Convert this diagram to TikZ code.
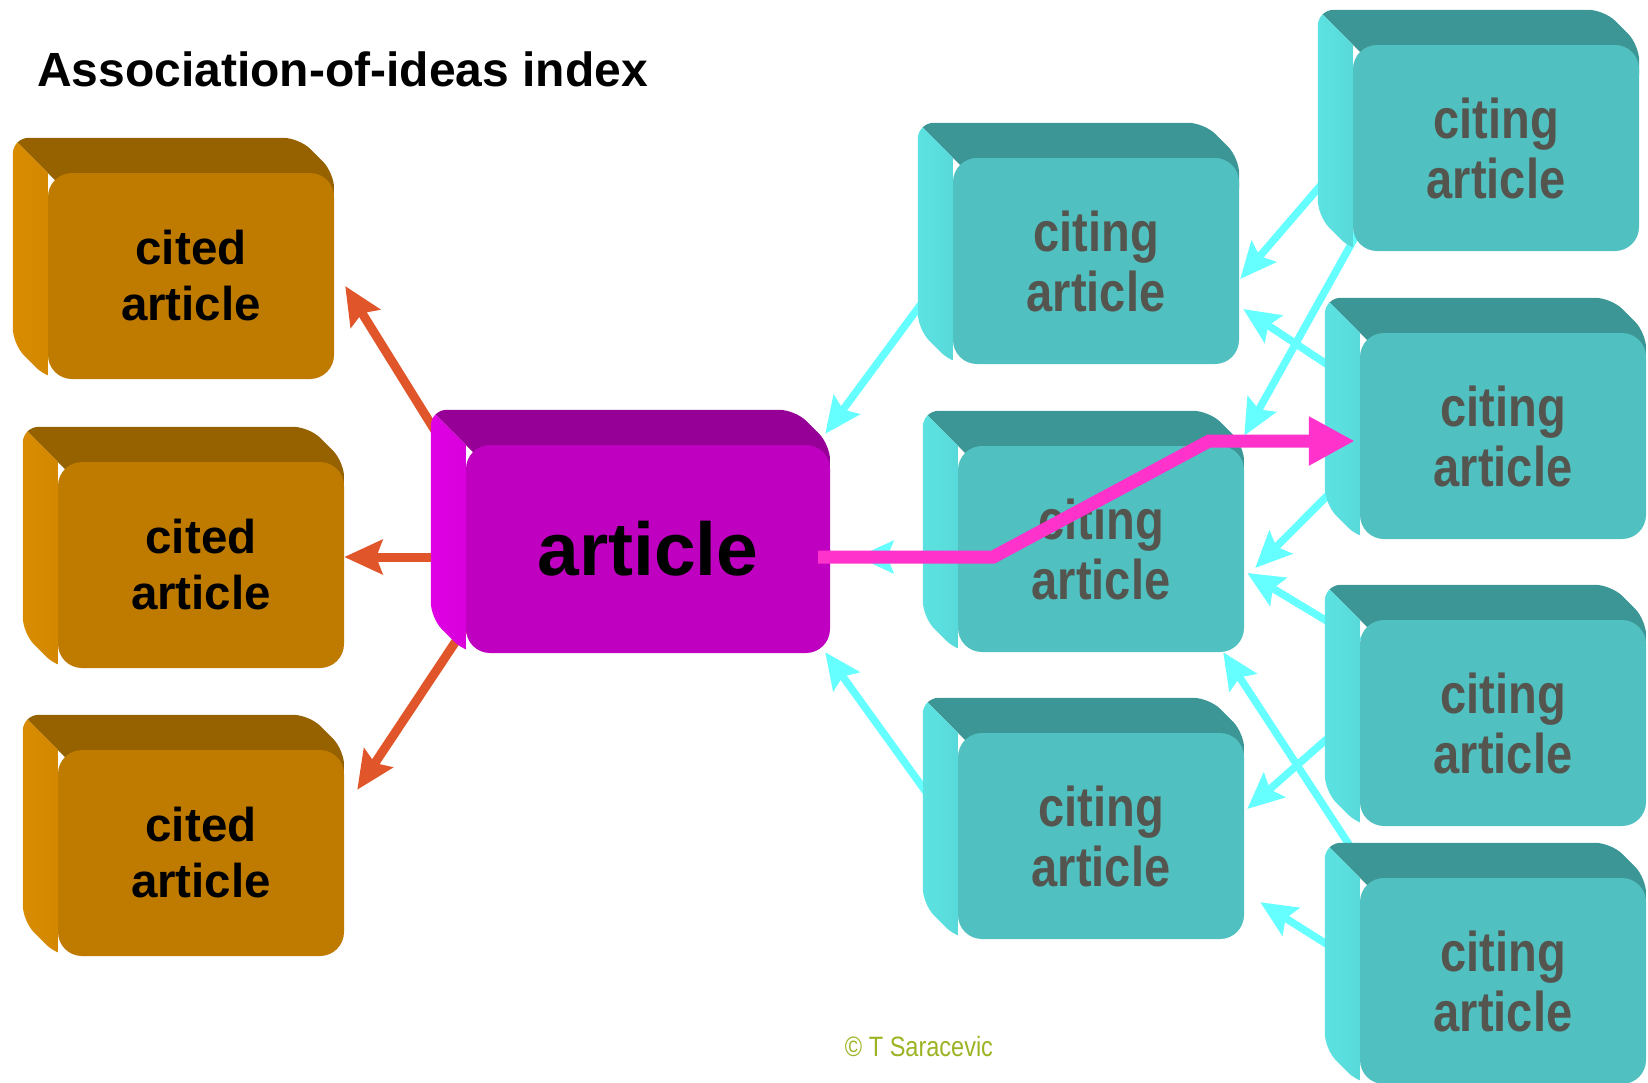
\documentclass[tikz,border=0pt]{standalone}
\usepackage{fontspec}
\setmainfont{Liberation Sans}
\newfontfamily\narrowfont[FakeStretch=0.84]{Liberation Sans}
\usetikzlibrary{arrows.meta}

\definecolor{citedfront}{HTML}{BF7A00}
\definecolor{citedtop}{HTML}{966200}
\definecolor{citedside}{HTML}{D98C00}
\definecolor{mainfront}{HTML}{C000C0}
\definecolor{maintop}{HTML}{960096}
\definecolor{mainside}{HTML}{E000E4}
\definecolor{citingfront}{HTML}{50C0C0}
\definecolor{citingtop}{HTML}{3D9696}
\definecolor{citingside}{HTML}{5CE2E2}
\definecolor{citingtext}{HTML}{55554F}
\definecolor{refred}{HTML}{E0562A}
\definecolor{citecyan}{HTML}{66FFFF}
\definecolor{trailpink}{HTML}{FF33CC}
\definecolor{creditgreen}{HTML}{9CB424}

\pgfdeclarelayer{links}
\pgfdeclarelayer{sides}
\pgfdeclarelayer{front}
\pgfsetlayers{links,sides,main,front}

% extruded back part of a block, drawn behind its front face
\newcommand{\boxsides}[2]{%
  \begin{pgfonlayer}{sides}
    \begin{scope}
    \clip[rounded corners=16pt] ([shift={(-35,-35)}]#1.north west) -- ([shift={(-35,-35)}]#1.north east)
      -- (#1.north east) -- (#1.south east) -- (#1.south west) -- ([shift={(-35,-35)}]#1.south west) -- cycle;
    \fill[#2top] ([shift={(-35,-35)}]#1.north west) -- ([shift={(-35,-35)}]#1.north east) -- (#1.north east)
      -- ([shift={(0,30)}]#1.north east) -- ([shift={(30,30)}]#1.north west) -- (#1.north west) -- cycle;
    \shade[left color=#2side, right color=#2side!75!#2front] ([shift={(-35,-35)}]#1.north west)
      -- (#1.north west) -- (#1.south west) -- ([shift={(-35,-35)}]#1.south west) -- cycle;
    \end{scope}
  \end{pgfonlayer}}

\tikzset{
  face/.style={rounded corners=24pt, inner sep=0pt, minimum width=286pt, minimum height=206pt, align=center},
  citedbox/.style={face, fill=citedfront, font=\bfseries\fontsize{47.5}{56}\selectfont},
  mainbox/.style={face, fill=mainfront, minimum width=364pt, minimum height=208pt, font=\bfseries\fontsize{75}{80}\selectfont},
  citingbox/.style={face, fill=citingfront, text=citingtext, font=\narrowfont\bfseries\fontsize{56}{60}\selectfont},
  refline/.style={draw=refred, line width=9pt, -{Stealth[length=38pt, width=34pt, inset=6pt]}},
  citeline/.style={draw=citecyan, line width=7.5pt, -{Stealth[length=36pt, width=32pt, inset=6pt]}},
  trail/.style={draw=trailpink, line width=13pt, -{Triangle[length=46pt, width=46pt]}}
}

\begin{document}
\begin{tikzpicture}[x=1pt, y=-1pt]
    \useasboundingbox (0,0) rectangle (1648,1082);
    \node[anchor=base west, inner sep=0pt, font=\bfseries\fontsize{48}{56}\selectfont] (title) at (37,86) {Association-of-ideas index};

    \node[citedbox] (cited1) at (191,276) {cited\\article};
    \node[citedbox] (cited2) at (201,565) {cited\\article};
    \node[citedbox] (cited3) at (201,853) {cited\\article};
    \node[mainbox] (article) at (648,549) {article};
    \node[citingbox] (citing1) at (1096,261) {citing\\article};
    \node[citingbox] (citing2) at (1101,549) {citing\\article};
    \node[citingbox] (citing3) at (1101,836) {citing\\article};
    \node[citingbox] (citing4) at (1496,148) {citing\\article};
    \node[citingbox] (citing5) at (1503,436) {citing\\article};
    \node[citingbox] (citing6) at (1503,723) {citing\\article};
    \node[citingbox] (citing7) at (1503,981) {citing\\article};

    \boxsides{cited1}{cited}
    \boxsides{cited2}{cited}
    \boxsides{cited3}{cited}
    \boxsides{article}{main}
    \boxsides{citing1}{citing}
    \boxsides{citing2}{citing}
    \boxsides{citing3}{citing}
    \boxsides{citing4}{citing}
    \boxsides{citing5}{citing}
    \boxsides{citing6}{citing}
    \boxsides{citing7}{citing}

    \begin{pgfonlayer}{links}
    \draw[refline] ([shift={(-22,0)}]article.north west) -- ([shift={(11,10)}]cited1.east);
    \draw[refline] ([shift={(0,8)}]article.west) -- ([shift={(0,-8)}]cited2.east);
    \draw[refline] ([shift={(14,-48)}]article.south west) -- ([shift={(13,40)}]cited3.north east);
    \draw[citeline] (citing1.west) -- ([shift={(-5,-11)}]article.north east);
    \draw[citeline] ([shift={(0,8)}]citing2.west) -- ([shift={(27,8)}]article.east);
    \draw[citeline] (citing3.west) -- ([shift={(-5,-1)}]article.south east);
    \draw[citeline] (citing4.west) -- ([shift={(1,18)}]citing1.east);
    \draw[citeline] ([shift={(5,-19)}]citing4.south west) -- ([shift={(0,-10)}]citing2.north east);
    \draw[citeline] ([shift={(0,-50)}]citing5.west) -- ([shift={(4,48)}]citing1.east);
    \draw[citeline] ([shift={(0,27)}]citing5.west) -- ([shift={(11,19)}]citing2.east);
    \draw[citeline] ([shift={(0,21)}]citing6.north west) -- ([shift={(3,24)}]citing2.east);
    \draw[citeline] ([shift={(0,-13)}]citing6.west) -- ([shift={(3,-27)}]citing3.east);
    \draw[citeline] ([shift={(11,0)}]citing7.north west) -- ([shift={(-21,0)}]citing2.south east);
    \draw[citeline] ([shift={(0,-16)}]citing7.west) -- ([shift={(16,-37)}]citing3.south east);
    \end{pgfonlayer}

    \begin{pgfonlayer}{front}
    \draw[trail] ([shift={(-12,8)}]article.east) -- ++(175,0) -- ++(216,-116) -- ([shift={(-5,5)}]citing5.west);
    \end{pgfonlayer}

    \node[font=\narrowfont\fontsize{28}{32}\selectfont, text=creditgreen] (credit) at (919,1046) {\textcopyright{} T Saracevic};
\end{tikzpicture}
\end{document}
